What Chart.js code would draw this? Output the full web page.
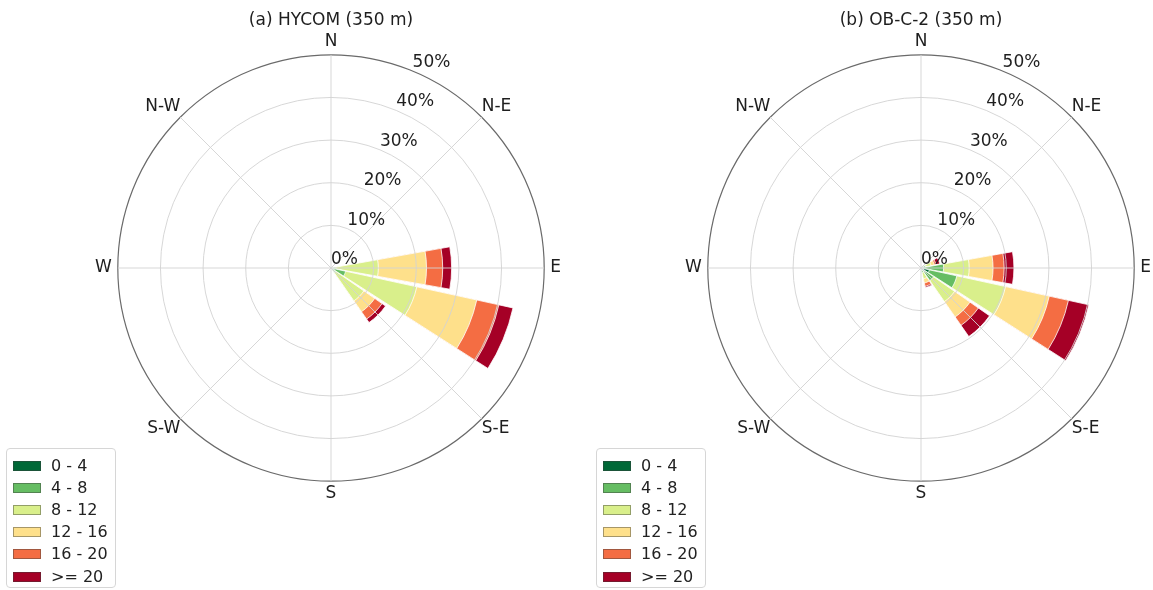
<!DOCTYPE html>
<html>
<head>
<meta charset="utf-8">
<script src="https://cdn.jsdelivr.net/npm/chart.js@4.4.1/dist/chart.umd.min.js"></script>
<style>
  html, body { margin: 0; padding: 0; width: 1153px; height: 590px; overflow: hidden; background: #fff; }
  body { position: relative; font-family: "DejaVu Sans", sans-serif; }
  .panel { position: absolute; top: 0; width: 540px; height: 590px; }
  .legend { position: absolute; width: 110px; height: 140px; box-sizing: border-box;
            border: 1px solid #d6d6d6; border-radius: 4px; background: rgba(255,255,255,0.85); }
  .legend .row { position: absolute; left: 0; height: 20px; line-height: 20px; }
  .legend .sw { position: absolute; left: 6px; top: 5px; width: 28px; height: 10px; box-sizing: border-box;
                border: 1px solid rgba(60,60,60,0.45); }
  .legend .tx { position: absolute; left: 44px; top: 0; font-size: 16px; color: #222; white-space: nowrap; }
</style>
</head>
<body>
<div class="panel" style="left:61px"><canvas id="roseA"></canvas></div>
<div class="panel" style="left:651px"><canvas id="roseB"></canvas></div>
<div class="legend" id="legendA" style="left:6px; top:448px"></div>
<div class="legend" id="legendB" style="left:596px; top:448px"></div>

<script>
// Direction sectors (16), clockwise from north
const directions = ['N','NNE','NE','ENE','E','ESE','SE','SSE','S','SSW','SW','WSW','W','WNW','NW','NNW'];
// Compass labels shown around the rose
const compassLabels = ['N','N-E','E','S-E','S','S-W','W','N-W'];
// Current speed classes
const speedBins = ['0 - 4','4 - 8','8 - 12','12 - 16','16 - 20','>= 20'];
const binColors = ['#006837','#66bd63','#d9ef8b','#fee08b','#f46d43','#a50026'];
// Radial axis (frequency, %)
const radialMax = 50;
const radialStep = 10;

// (a) HYCOM, frequency (%) per direction for each speed class
const hycom0to4   = [0,0,0,0, 0.3, 0.8, 0.3,0, 0,0,0,0, 0,0,0,0];
const hycom4to8   = [0,0,0,0, 0.8, 2.7, 1.0,0, 0,0,0,0, 0,0,0,0];
const hycom8to12  = [0,0,0,0,10.0,17.1, 8.1,0, 0,0,0,0, 0,0,0,0];
const hycom12to16 = [0,0,0,0,11.3,14.4, 3.1,0, 0,0,0,0, 0,0,0,0];
const hycom16to20 = [0,0,0,0, 3.8, 5.3, 2.1,0, 0,0,0,0, 0,0,0,0];
const hycomOver20 = [0,0,0,0, 2.1, 3.4, 1.0,0, 0,0,0,0, 0,0,0,0];

// (b) OB-C-2, frequency (%) per direction for each speed class
const obc0to4   = [0,0,0,0.3, 1.0, 2.0, 0.6,0.3, 0,0,0,0, 0,0,0,0];
const obc4to8   = [0,0,0,0.8, 4.3, 6.6, 3.0,0.8, 0,0,0,0, 0,0,0,0];
const obc8to12  = [0,0,0,1.3, 6.0,11.7, 6.0,1.5, 0,0,0,0, 0,0,0,0];
const obc12to16 = [0,0,0,0.8, 5.6,10.5, 4.4,1.0, 0,0,0,0, 0,0,0,0];
const obc16to20 = [0,0,0,0.4, 2.6, 4.6, 2.4,0.8, 0,0,0,0, 0,0,0,0];
const obcOver20 = [0,0,0,0.9, 2.3, 4.9, 3.2,0.3, 0,0,0,0, 0,0,0,0];

Chart.defaults.font.family = '"DejaVu Sans", sans-serif';

const SECTOR = 360 / directions.length;
const BAR = SECTOR * 0.9;
const GAP = SECTOR - BAR;

// Lay the 16 sectors out as arcs separated by thin empty arcs.
// The north sector straddles the start angle, so it is split in two halves.
function sectorSeries(values) {
  const data = [values[0], 0];
  const angle = [BAR / 2, GAP];
  for (let k = 1; k < values.length; k++) {
    data.push(values[k], 0);
    angle.push(BAR, GAP);
  }
  data.push(values[0]);
  angle.push(BAR / 2);
  return { data, angle };
}

// Stacked rose: each class is drawn as the cumulative frequency, smallest on top.
function roseDatasets(bins) {
  const running = directions.map(() => 0);
  return bins.map((bin, i) => {
    const cum = bin.map((v, k) => (running[k] += v));
    const s = sectorSeries(cum.slice());
    return {
      label: speedBins[i],
      data: s.data,
      angle: s.angle,
      backgroundColor: binColors[i],
      borderColor: '#ffffff',
      borderWidth: ctx => (ctx.raw > 0 ? 0.8 : 0)
    };
  });
}

const labelPads = [3, 0, 6, 0, 2, 0, 6, 0];

// Ring labels placed along the 22.5° bearing, anchored at their lower-left corner
const ringLabels = {
  id: 'ringLabels',
  afterDraw(chart) {
    const s = chart.scales.r;
    const ctx = chart.ctx;
    ctx.save();
    ctx.font = '17px "DejaVu Sans"';
    ctx.fillStyle = '#1e1e1e';
    ctx.textAlign = 'left';
    ctx.textBaseline = 'bottom';
    s.ticks.forEach(t => {
      const p = s.getPointPositionForValue(0.5, t.value);
      ctx.fillText(t.label, p.x, p.y);
    });
    ctx.restore();
  }
};

function drawRose(canvasId, title, bins) {
  return new Chart(document.getElementById(canvasId), {
    type: 'polarArea',
    data: { labels: compassLabels, datasets: roseDatasets(bins) },
    options: {
      responsive: true,
      maintainAspectRatio: false,
      animation: false,
      events: [],
      layout: { padding: { top: 0, bottom: 85, left: 0, right: 0 } },
      plugins: {
        legend: { display: false },
        tooltip: { enabled: false },
        title: {
          display: true,
          text: title,
          color: '#1e1e1e',
          font: { size: 17, weight: 'normal' },
          padding: { top: 10, bottom: 0 }
        }
      },
      scales: {
        r: {
          min: 0,
          max: radialMax,
          startAngle: 0,
          ticks: { display: false, stepSize: radialStep, callback: v => v + '%' },
          grid: {
            circular: true,
            z: 1,
            color: c => (c.tick && c.tick.value === radialMax ? '#6a6a6a' : '#d2d2d2'),
            lineWidth: c => (c.tick && c.tick.value === radialMax ? 1.2 : 0.9)
          },
          angleLines: { display: true, color: '#d2d2d2', lineWidth: 0.9 },
          pointLabels: {
            display: true,
            color: '#1e1e1e',
            font: { size: 17 },
            padding: c => labelPads[c.index]
          }
        }
      }
    },
    plugins: [ringLabels]
  });
}

function buildLegend(id) {
  const box = document.getElementById(id);
  speedBins.forEach((name, i) => {
    const row = document.createElement('div');
    row.className = 'row';
    row.style.top = (6.5 + 22.2 * i) + 'px';
    const sw = document.createElement('span');
    sw.className = 'sw';
    sw.style.background = binColors[i];
    const tx = document.createElement('span');
    tx.className = 'tx';
    tx.textContent = name;
    row.appendChild(sw);
    row.appendChild(tx);
    box.appendChild(row);
  });
}

drawRose('roseA', '(a) HYCOM (350 m)',
  [hycom0to4, hycom4to8, hycom8to12, hycom12to16, hycom16to20, hycomOver20]);
drawRose('roseB', '(b) OB-C-2 (350 m)',
  [obc0to4, obc4to8, obc8to12, obc12to16, obc16to20, obcOver20]);
buildLegend('legendA');
buildLegend('legendB');
</script>
</body>
</html>
